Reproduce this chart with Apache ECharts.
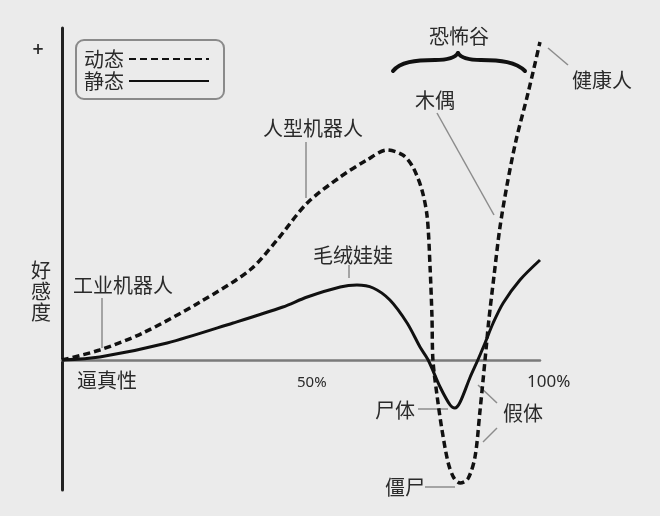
<!DOCTYPE html>
<html>
<head>
<meta charset="utf-8">
<script src="https://cdn.jsdelivr.net/npm/echarts@6/dist/echarts.min.js"></script>
<style>
html,body{margin:0;padding:0;background:#ebebeb;}
#c{width:660px;height:516px;}
</style>
</head>
<body>
<div id="c"></div>
<script>
// 逼真性 (x, 0–100) and 好感度 (y)
const dynamicX = [0, 7.9, 16.9, 28.9, 39.3, 45, 51.3, 58.2, 63.8, 68, 71.3, 73.4, 75.3, 76.4, 77, 77.4, 77.6, 78.5, 79.5, 80.8, 82, 83.3, 84.9, 86.4, 87.4, 88.5, 89.3, 90.4, 91.6, 93.1, 95, 97.5, 100];
const dynamicY = [0, 5, 13.5, 29, 45, 60, 78.5, 91.5, 100, 105, 102.5, 96.5, 85, 71.5, 46.5, 21.5, 0, -18.5, -35, -51.5, -59, -61.5, -59.5, -48.5, -26.5, 0, 20, 42.5, 66, 87.5, 110, 133.5, 159];
const staticX = [0, 7.9, 22, 35.8, 46.2, 51.3, 58.2, 61.7, 65.1, 68.6, 72.2, 74.9, 76.6, 79.1, 81.2, 82.2, 83.3, 85.4, 87, 88.5, 90.2, 92.3, 95.8, 100];
const staticY = [0, 1.5, 8.5, 18.5, 26.5, 31.5, 36.5, 37.5, 36, 30, 18.5, 6.5, 0, -13.5, -22.5, -24, -21, -8.5, 0, 8.5, 18.5, 28.5, 40, 50];
const seriesNames = ['动态', '静态'];

const chart = echarts.init(document.getElementById('c'), null, {renderer: 'canvas'});
const CJK = '"Noto Sans CJK SC", "Noto Sans", sans-serif';
const txtColor = '#2a2a2a';
const leadColor = '#8c8c8c';

function label(text, x, y, align, font) {
  return {
    type: 'text', x: x, y: y, silent: true,
    style: {
      text: text, fill: txtColor,
      font: font || ('20px ' + CJK),
      align: align || 'left', verticalAlign: 'middle', lineHeight: 21
    }
  };
}
function lead(x1, y1, x2, y2) {
  return {
    type: 'line', silent: true,
    shape: {x1: x1, y1: y1, x2: x2, y2: y2},
    style: {stroke: leadColor, lineWidth: 1.5}
  };
}
function curve(x1, y1, c1x, c1y, c2x, c2y, x2, y2) {
  return {
    type: 'bezierCurve', silent: true,
    shape: {x1: x1, y1: y1, cpx1: c1x, cpy1: c1y, cpx2: c2x, cpy2: c2y, x2: x2, y2: y2},
    style: {fill: null, stroke: '#111', lineWidth: 4, lineCap: 'round'}
  };
}

chart.setOption({
  backgroundColor: '#ebebeb',
  animation: false,
  grid: {left: 62, right: 120, top: 28, bottom: 26},
  legend: {
    orient: 'vertical', left: 76, top: 40, align: 'right',
    data: seriesNames,
    itemWidth: 80, itemHeight: 12, itemGap: 2,
    padding: [9, 14, 8, 8],
    borderColor: '#8a8a8a', borderWidth: 2, borderRadius: 8,
    itemStyle: {opacity: 0},
    textStyle: {fontFamily: 'Noto Sans CJK SC', fontSize: 20, color: txtColor},
    selectedMode: false
  },
  xAxis: {
    type: 'value', min: 0, max: 100,
    axisLine: {show: true, onZero: true, lineStyle: {color: '#7a7a7a', width: 2.5}},
    axisTick: {show: false}, axisLabel: {show: false}, splitLine: {show: false}
  },
  yAxis: {
    type: 'value', min: -65, max: 166,
    axisLine: {show: true, lineStyle: {color: '#222', width: 3}},
    axisTick: {show: false}, axisLabel: {show: false}, splitLine: {show: false}
  },
  series: [
    {
      name: seriesNames[0], type: 'line', symbol: 'none', smooth: 0.3,
      data: dynamicX.map((x, i) => [x, dynamicY[i]]),
      lineStyle: {color: '#111', width: 3.5, type: [7, 4]},
      itemStyle: {color: '#111'}, z: 3
    },
    {
      name: seriesNames[1], type: 'line', symbol: 'none', smooth: 0.3,
      data: staticX.map((x, i) => [x, staticY[i]]),
      lineStyle: {color: '#111', width: 3},
      itemStyle: {color: '#111'}, z: 3
    }
  ],
  graphic: [
    label('+', 38, 50, 'center', 'bold 15px "DejaVu Sans", sans-serif'),
    label('好\n感\n度', 41, 291, 'center'),
    label('工业机器人', 73, 285),
    label('逼真性', 77, 380),
    label('50%', 297, 383, 'left', '15px "Noto Sans", sans-serif'),
    label('100%', 527, 382, 'left', '17px "Noto Sans", sans-serif'),
    label('人型机器人', 263, 128),
    label('毛绒娃娃', 313, 255),
    label('恐怖谷', 459, 36, 'center'),
    label('木偶', 415, 100),
    label('健康人', 572, 80),
    label('尸体', 375, 410),
    label('假体', 503, 413),
    label('僵尸', 385, 487),
    lead(102, 298, 102, 348),
    lead(306, 142, 306, 198),
    lead(349, 265, 349, 278),
    lead(437, 113, 494, 215),
    lead(548, 48, 568, 65),
    lead(418, 409, 448, 409),
    lead(478, 385, 497, 403),
    lead(497, 428, 483, 442),
    lead(425, 487, 455, 487),
    curve(393, 71, 400, 62, 415, 60, 435, 60),
    curve(435, 60, 448, 60, 455, 58, 458, 53),
    curve(458, 53, 461, 58, 468, 60, 481, 60),
    curve(481, 60, 501, 60, 516, 62, 525, 71)
  ]
});
</script>
</body>
</html>
